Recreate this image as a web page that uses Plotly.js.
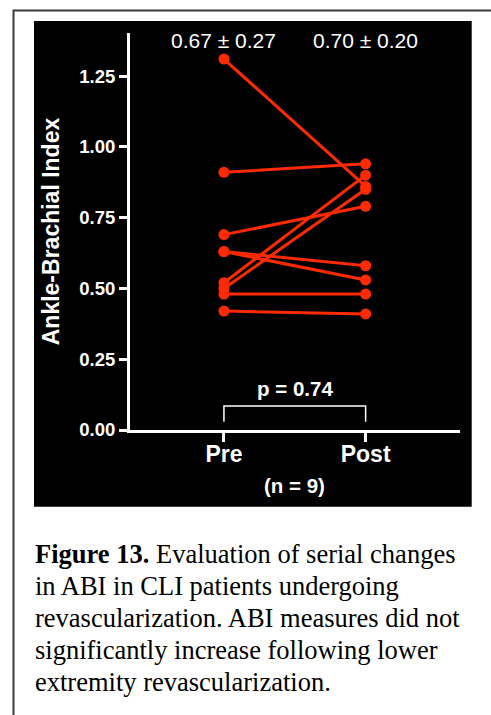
<!DOCTYPE html>
<html>
<head>
<meta charset="utf-8">
<script src="https://cdn.plot.ly/plotly-3.0.1.min.js"></script>
<style>
html,body{margin:0;padding:0;background:#fff;}
#chart{width:491px;height:715px;}
</style>
</head>
<body>
<div id="chart"></div>
<script>
// ---- data ----
const categories = ['Pre', 'Post'];
const preABI  = [1.31, 0.91, 0.69, 0.63, 0.63, 0.52, 0.50, 0.48, 0.42];
const postABI = [0.86, 0.94, 0.79, 0.58, 0.53, 0.90, 0.85, 0.48, 0.41];
const summaryLabels = ['0.67 ± 0.27', '0.70 ± 0.20'];
const yTickVals = [0, 0.25, 0.5, 0.75, 1.0, 1.25];
const pValueLabel = 'p = 0.74';
const nLabel = '(n = 9)';
const yTitle = 'Ankle-Brachial Index';
const captionBold = 'Figure 13.';
const captionLines = [
  ' Evaluation of serial changes',
  'in ABI in CLI patients undergoing',
  'revascularization. ABI measures did not',
  'significantly increase following lower',
  'extremity revascularization.'
];

// ---- layout helpers (pixel geometry) ----
const W = 491, H = 715;
const mL = 130, mR = 31, mT = 33, mB = 285;
const plotW = W - mL - mR, plotH = H - mT - mB;
const px2paperX = p => (p - mL) / plotW;
const py2paperY = p => (H - mB - p) / plotH;

const RED = '#ff2a00';
const traces = preABI.map((v, i) => ({
  type: 'scatter',
  mode: 'lines+markers',
  x: categories,
  y: [v, postABI[i]],
  line: {color: RED, width: 3},
  marker: {color: RED, size: 11},
  showlegend: false,
  hoverinfo: 'y',
  cliponaxis: false
}));

const sans = 'Liberation Sans, Arial, Helvetica, sans-serif';
const serif = 'Liberation Serif, Times New Roman, serif';

const captionAnnotations = captionLines.map((line, i) => ({
  xref: 'paper', yref: 'paper', x: px2paperX(33), y: py2paperY(554 + 32 * i),
  xanchor: 'left', yanchor: 'middle', align: 'left', showarrow: false,
  text: (i === 0 ? '<b>' + captionBold + '</b>' : '') + line,
  font: {family: serif, size: 26.5, color: '#000000'}
}));

const layout = {
  width: W, height: H,
  margin: {l: mL, r: mR, t: mT, b: mB},
  paper_bgcolor: '#ffffff',
  plot_bgcolor: 'rgba(0,0,0,0)',
  showlegend: false,
  xaxis: {
    type: 'category',
    categoryarray: categories,
    range: [-0.663, 1.666],
    showline: true, linecolor: '#ffffff', linewidth: 3,
    ticks: 'outside', ticklen: 9, tickwidth: 3, tickcolor: '#ffffff',
    ticklabelstandoff: -8,
    tickfont: {family: sans, size: 23, color: '#ffffff', weight: 'bold'},
    showgrid: false, zeroline: false, fixedrange: true
  },
  yaxis: {
    range: [0, 1.402],
    tickvals: yTickVals,
    tickformat: '.2f',
    showline: true, linecolor: '#ffffff', linewidth: 3,
    ticks: 'outside', ticklen: 8, tickwidth: 3, tickcolor: '#ffffff',
    tickfont: {family: sans, size: 18.5, color: '#ffffff', weight: 'bold'},
    showgrid: false, zeroline: false, fixedrange: true,
    title: {text: yTitle, standoff: 14,
            font: {family: sans, size: 23, color: '#ffffff', weight: 'bold'}}
  },
  shapes: [
    // black figure panel
    {type: 'rect', xref: 'paper', yref: 'paper', layer: 'below',
     x0: px2paperX(34), x1: px2paperX(471.7), y0: py2paperY(506.7), y1: py2paperY(21),
     fillcolor: '#000000', line: {width: 0}},
    // page border (top + left)
    {type: 'rect', xref: 'paper', yref: 'paper', layer: 'below',
     x0: px2paperX(13.5), x1: px2paperX(520), y0: py2paperY(740), y1: py2paperY(10.5),
     fillcolor: 'rgba(0,0,0,0)', line: {color: '#3a3a3a', width: 2}},
    // significance bracket
    {type: 'path', xref: 'x', yref: 'y',
     path: 'M 0 0.029 L 0 0.085 L 1 0.085 L 1 0.029',
     line: {color: '#ffffff', width: 1.5}}
  ],
  annotations: [
    {xref: 'x', yref: 'y', x: 0, y: 1.374, text: summaryLabels[0], showarrow: false,
     xanchor: 'center', yanchor: 'middle',
     font: {family: sans, size: 21, color: '#ffffff'}},
    {xref: 'x', yref: 'y', x: 1, y: 1.374, text: summaryLabels[1], showarrow: false,
     xanchor: 'center', yanchor: 'middle',
     font: {family: sans, size: 21, color: '#ffffff'}},
    {xref: 'x', yref: 'y', x: 0.5, y: 0.148, text: pValueLabel, showarrow: false,
     xanchor: 'center', yanchor: 'middle',
     font: {family: sans, size: 20.5, color: '#ffffff', weight: 'bold'}},
    {xref: 'x', yref: 'paper', x: 0.5, y: py2paperY(485), text: nLabel, showarrow: false,
     xanchor: 'center', yanchor: 'middle',
     font: {family: sans, size: 20.5, color: '#ffffff', weight: 'bold'}}
  ].concat(captionAnnotations)
};

Plotly.newPlot('chart', traces, layout, {displayModeBar: false, staticPlot: true});
</script>
</body>
</html>
